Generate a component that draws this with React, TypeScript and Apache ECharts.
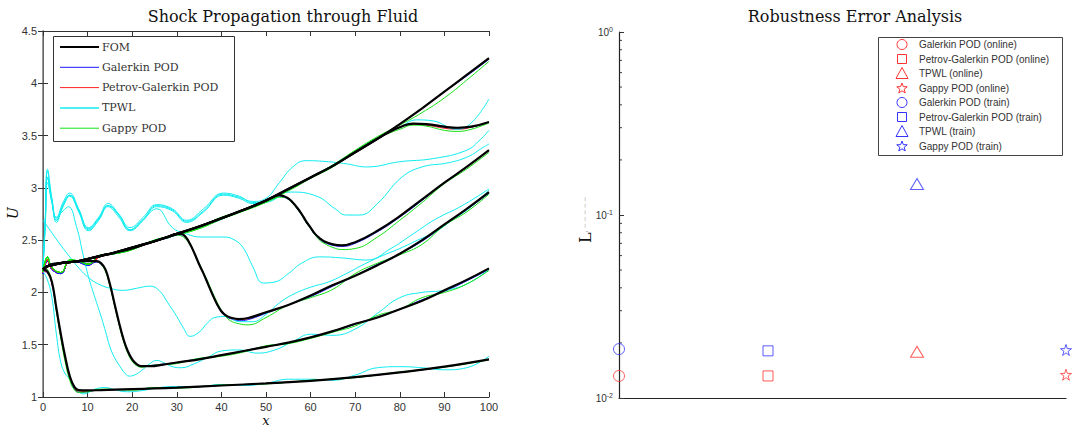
import React, { useEffect, useRef } from 'react';
import * as echarts from 'echarts';

// ---------- Left chart: FOM snapshots (x grids + U values) ----------
const X1 = [0,1,2,3,4,5,6,7,8,10,13,16,20,25,30,40,50,60,70,80,90,100];
const FOM1 = [2.22,2.2,2.1,1.85,1.6,1.38,1.2,1.1,1.065,1.063,1.066,1.07,1.075,1.082,1.09,1.11,1.13,1.155,1.19,1.235,1.29,1.36];
const GAL1 = [2.2,2.19,2.08,1.83,1.58,1.36,1.18,1.08,1.045,1.05,1.07,1.068,1.075,1.085,1.088,1.112,1.128,1.157,1.188,1.236,1.288,1.36];
const PG1 = [2.21,2.19,2.09,1.84,1.59,1.37,1.19,1.09,1.05,1.055,1.068,1.07,1.074,1.083,1.09,1.11,1.13,1.156,1.19,1.235,1.29,1.36];
const GAP1 = [2.24,2.22,2.1,1.82,1.56,1.33,1.16,1.07,1.045,1.05,1.075,1.072,1.065,1.09,1.085,1.115,1.125,1.16,1.185,1.24,1.285,1.355];

const X2 = [0,1,2,4,6,8,10,12,13,14,15,16,17,18,19,20,21,22,24,27,30,35,40,45,50,55,60,65,70,75,80,85,90,95,100];
const FOM2 = [2.22,2.25,2.27,2.28,2.29,2.3,2.3,2.3,2.28,2.22,2.08,1.9,1.72,1.56,1.44,1.36,1.315,1.295,1.295,1.31,1.33,1.36,1.4,1.44,1.48,1.52,1.57,1.63,1.7,1.76,1.84,1.92,2.02,2.12,2.23];
const GAL2 = [2.18,2.3,2.22,2.18,2.3,2.29,2.26,2.29,2.27,2.21,2.07,1.89,1.71,1.55,1.43,1.35,1.31,1.29,1.3,1.315,1.33,1.365,1.395,1.44,1.485,1.515,1.57,1.625,1.695,1.765,1.84,1.93,2.01,2.11,2.22];
const PG2 = [2.19,2.31,2.23,2.19,2.3,2.3,2.27,2.3,2.28,2.21,2.07,1.89,1.71,1.55,1.43,1.35,1.31,1.29,1.295,1.312,1.33,1.36,1.4,1.44,1.48,1.52,1.57,1.63,1.7,1.76,1.84,1.92,2.02,2.12,2.23];
const GAP2 = [2.2,2.33,2.24,2.19,2.31,2.3,2.27,2.3,2.27,2.2,2.06,1.88,1.7,1.54,1.42,1.34,1.3,1.285,1.3,1.31,1.32,1.37,1.39,1.43,1.49,1.51,1.56,1.62,1.68,1.78,1.84,1.95,2.0,2.08,2.21];

const X3 = [0,1,2,4,6,8,10,13,16,20,25,28,30,31,32,33,34,35,36,37,38,39,40,41,42,44,46,50,55,60,65,70,75,80,85,90,95,100];
const FOM3 = [2.22,2.25,2.26,2.28,2.29,2.3,2.32,2.35,2.38,2.42,2.49,2.53,2.56,2.56,2.53,2.46,2.37,2.27,2.18,2.08,1.98,1.89,1.82,1.78,1.76,1.745,1.755,1.81,1.88,1.97,2.07,2.16,2.26,2.37,2.5,2.65,2.8,2.96];
const GAL3 = [2.18,2.3,2.22,2.18,2.3,2.29,2.26,2.35,2.37,2.42,2.49,2.52,2.55,2.55,2.52,2.46,2.37,2.27,2.18,2.08,1.98,1.89,1.81,1.77,1.75,1.73,1.74,1.8,1.88,1.96,2.06,2.16,2.27,2.37,2.49,2.64,2.79,2.95];
const PG3 = [2.19,2.31,2.23,2.19,2.3,2.3,2.27,2.35,2.38,2.42,2.49,2.53,2.56,2.56,2.53,2.46,2.37,2.27,2.18,2.08,1.98,1.89,1.82,1.78,1.76,1.74,1.75,1.81,1.88,1.97,2.07,2.16,2.26,2.37,2.5,2.65,2.8,2.96];
const GAP3 = [2.2,2.34,2.24,2.19,2.31,2.3,2.27,2.36,2.37,2.41,2.5,2.52,2.55,2.54,2.51,2.45,2.37,2.28,2.19,2.1,2.0,1.91,1.83,1.77,1.73,1.7,1.69,1.76,1.88,1.95,2.03,2.18,2.28,2.36,2.46,2.64,2.77,2.94];

const X4 = [0,1,2,4,6,8,10,13,16,20,25,30,35,40,45,50,52,53,54,55,56,57,58,59,60,61,62,63,65,67,70,75,80,85,90,95,100];
const FOM4 = [2.22,2.25,2.26,2.28,2.29,2.3,2.32,2.35,2.38,2.43,2.49,2.56,2.63,2.71,2.79,2.88,2.92,2.93,2.92,2.9,2.86,2.81,2.75,2.68,2.62,2.56,2.52,2.49,2.46,2.45,2.48,2.59,2.73,2.89,3.05,3.2,3.36];
const GAL4 = [2.18,2.3,2.22,2.18,2.3,2.29,2.26,2.35,2.37,2.42,2.49,2.55,2.62,2.71,2.79,2.87,2.91,2.92,2.91,2.89,2.85,2.8,2.74,2.67,2.61,2.55,2.51,2.48,2.45,2.44,2.47,2.58,2.72,2.88,3.05,3.2,3.36];
const PG4 = [2.19,2.31,2.23,2.19,2.3,2.3,2.27,2.35,2.38,2.42,2.49,2.56,2.63,2.71,2.79,2.88,2.92,2.93,2.92,2.9,2.86,2.81,2.75,2.68,2.62,2.56,2.52,2.49,2.46,2.45,2.48,2.59,2.73,2.89,3.05,3.2,3.36];
const GAP4 = [2.2,2.34,2.24,2.19,2.31,2.3,2.27,2.36,2.37,2.41,2.5,2.55,2.62,2.72,2.78,2.86,2.9,2.91,2.91,2.89,2.85,2.8,2.74,2.67,2.61,2.55,2.5,2.47,2.43,2.41,2.42,2.53,2.69,2.86,3.04,3.18,3.34];

const X5 = [0,1,2,4,6,8,10,13,16,20,25,30,35,40,45,50,55,60,65,70,75,78,80,83,86,90,93,96,100];
const FOM5 = [2.22,2.25,2.26,2.28,2.29,2.3,2.32,2.35,2.38,2.43,2.49,2.56,2.63,2.71,2.79,2.88,2.99,3.1,3.21,3.34,3.47,3.54,3.58,3.615,3.61,3.585,3.575,3.585,3.63];
const GAL5 = [2.18,2.3,2.22,2.18,2.3,2.29,2.26,2.35,2.37,2.42,2.49,2.55,2.62,2.7,2.79,2.87,2.98,3.1,3.21,3.34,3.47,3.54,3.58,3.61,3.6,3.58,3.57,3.58,3.63];
const PG5 = [2.19,2.31,2.23,2.19,2.3,2.3,2.27,2.35,2.38,2.42,2.49,2.56,2.63,2.71,2.79,2.88,2.99,3.1,3.21,3.34,3.47,3.54,3.58,3.61,3.6,3.57,3.56,3.58,3.63];
const GAP5 = [2.2,2.34,2.24,2.19,2.31,2.3,2.27,2.36,2.37,2.41,2.5,2.55,2.61,2.7,2.78,2.87,2.97,3.09,3.2,3.35,3.48,3.53,3.56,3.6,3.59,3.55,3.54,3.56,3.62];

const X6 = [0,1,2,4,6,8,10,13,16,20,25,30,35,40,45,50,55,60,65,70,75,80,85,90,95,100];
const FOM6 = [2.22,2.25,2.26,2.28,2.29,2.3,2.32,2.35,2.38,2.43,2.49,2.56,2.63,2.71,2.79,2.88,2.99,3.1,3.21,3.34,3.47,3.61,3.76,3.92,4.08,4.24];
const GAL6 = [2.18,2.3,2.22,2.18,2.3,2.29,2.26,2.35,2.37,2.42,2.49,2.55,2.62,2.7,2.79,2.87,2.98,3.1,3.21,3.34,3.47,3.61,3.76,3.92,4.07,4.23];
const PG6 = [2.19,2.31,2.23,2.19,2.3,2.3,2.27,2.35,2.38,2.42,2.49,2.56,2.63,2.71,2.79,2.88,2.99,3.1,3.21,3.34,3.47,3.61,3.76,3.92,4.08,4.24];
const GAP6 = [2.2,2.34,2.24,2.19,2.31,2.3,2.27,2.36,2.37,2.41,2.5,2.55,2.61,2.7,2.78,2.87,2.98,3.1,3.22,3.36,3.49,3.6,3.72,3.86,4.03,4.21];

// ---------- TPWL curves (own x grids) ----------
const TX1 = [0,1,2,3,4,5,6,7,8,9,10,12,14,16,19,22,26,30,35,40,45,50,55,60,65,70,75,80,85,90,95,100];
const TP1 = [2.2,2.12,1.95,1.6,1.33,1.22,1.17,1.1,1.05,1.03,1.04,1.08,1.09,1.07,1.05,1.06,1.09,1.1,1.1,1.12,1.11,1.13,1.17,1.17,1.16,1.21,1.28,1.29,1.28,1.26,1.28,1.39];
const TX2 = [0,0.5,1,2,3,4.5,5.7,7.5,9,10.2,11.5,12.8,14,15,16,17.3,18.3,19.3,20.5,22,24,25.5,27,29,31,34,37,40,44,48,52,56,60,65,70,75,80,85,90,95,100];
const TP2 = [2.25,2.66,3.1,2.86,2.72,2.78,2.82,2.63,2.36,2.15,1.97,1.8,1.63,1.48,1.38,1.29,1.23,1.2,1.21,1.25,1.32,1.35,1.33,1.29,1.28,1.32,1.38,1.44,1.45,1.42,1.45,1.53,1.6,1.59,1.65,1.8,1.95,2.0,2.02,2.08,2.22];
const TX3 = [0,2,4,6,8.3,10,12,15,18,21,24,26,28,30,31.5,33,35,36.7,38.5,41,44,47,50,53,56,60,64,68,72,76,80,84,88,92,96,100];
const TP3 = [2.69,2.57,2.45,2.34,2.22,2.15,2.09,2.04,2.02,2.04,2.06,2.02,1.9,1.77,1.66,1.58,1.62,1.7,1.76,1.77,1.72,1.72,1.79,1.9,1.98,2.05,2.1,2.18,2.27,2.35,2.42,2.5,2.58,2.7,2.82,2.98];
const TX4 = [0,0.5,1,2,3,4.5,6,8,10.2,12.5,14.6,17,19.5,22.5,25.5,29,32.2,35.2,38,40.4,43,45,47,49.4,52,55,58,62,67,72.6,78,83,88,94,100];
const TP4 = [2.24,2.68,3.16,2.88,2.69,2.84,2.93,2.79,2.61,2.71,2.83,2.74,2.6,2.7,2.8,2.62,2.56,2.53,2.53,2.53,2.5,2.42,2.25,2.09,2.1,2.18,2.28,2.34,2.33,2.31,2.42,2.56,2.7,2.83,2.99];
const TX5 = [0,0.5,1,2,3,4.5,6,8,10.2,12.5,14.6,17,19.5,22.5,25.5,29,32.2,36,40.4,44,47,50,55.4,61.4,65.5,68,71,75,80.4,85,90.9,95.4,98.4,100];
const TP5 = [2.25,2.7,3.18,2.9,2.71,2.86,2.95,2.8,2.62,2.72,2.85,2.75,2.62,2.72,2.84,2.8,2.69,2.8,2.95,2.92,2.86,2.87,2.96,2.92,2.8,2.74,2.74,2.85,3.1,3.2,3.24,3.3,3.38,3.42];
const TX6 = [0,0.5,1,2,3,4.5,6,8,10.2,12.5,14.6,17,19.5,22.5,25.5,29,32.2,36,40.4,44,47,50,53,56,59,64,68,72.6,80,87.5,95,98,100];
const TP6 = [2.23,2.66,3.1,2.88,2.69,2.83,2.93,2.78,2.6,2.7,2.83,2.74,2.6,2.7,2.83,2.79,2.68,2.78,2.94,2.91,2.87,2.9,3.05,3.2,3.26,3.25,3.23,3.2,3.25,3.28,3.36,3.46,3.55];
const TX7 = [0,0.5,1,2,3,4.5,6,8,10.2,12.5,14.6,17,19.5,22.5,25.5,29,32.2,36,40.4,44,47,50,55,60,65,70,75,80,83.8,87.5,92.7,96,100];
const TP7 = [2.24,2.62,3.05,2.86,2.67,2.82,2.92,2.77,2.59,2.69,2.82,2.72,2.59,2.69,2.82,2.78,2.67,2.77,2.93,2.9,2.85,2.86,2.98,3.1,3.22,3.35,3.48,3.58,3.65,3.64,3.56,3.62,3.85];

const X_TICKS_LEFT = [0, 10, 20, 30, 40, 50, 60, 70, 80, 90, 100];
const Y_TICKS_LEFT = [1, 1.5, 2, 2.5, 3, 3.5, 4, 4.5];

// ---------- Right chart ----------
const METHODS = ['Galerkin POD', 'Petrov-Galerkin POD', 'TPWL', 'Gappy POD'];
const METHOD_POS = [1, 2, 3, 4];
const ONLINE_ERR = [0.0132, 0.0132, 0.0179, 0.0134];
const TRAIN_ERR = [0.0185, 0.0181, 0.1476, 0.0183];

const C_FOM = '#000000';
const C_GAL = '#1a1aff';
const C_PG = '#ff2020';
const C_TPWL = '#10ecf0';
const C_GAP = '#14e014';
const C_ON = '#ff3333';
const C_TR = '#3333ff';

const STAR = 'path://M0,-1L0.2245,-0.309L0.9511,-0.309L0.3633,0.118L0.5878,0.809L0,0.382L-0.5878,0.809L-0.3633,0.118L-0.9511,-0.309L-0.2245,-0.309Z';
const SYMBOLS = ['circle', 'rect', 'triangle', STAR];
const SYM_SIZE: any[] = [11, 10, [13, 11], 11];

const pairs = (xs: number[], ys: number[]) => xs.map((x, i) => [x, ys[i]]);

function line(xs: number[], ys: number[], color: string, width: number, z: number) {
  return {
    type: 'line', xAxisIndex: 0, yAxisIndex: 0, data: pairs(xs, ys),
    showSymbol: false, symbol: 'none', smooth: 0.45,
    lineStyle: { color, width }, silent: true, z,
  };
}

function starPoints(cx: number, cy: number, R: number) {
  const pts: number[][] = [];
  for (let i = 0; i < 10; i++) {
    const r = i % 2 === 0 ? R : R * 0.42;
    const a = -Math.PI / 2 + (i * Math.PI) / 5;
    pts.push([cx + r * Math.cos(a), cy + r * Math.sin(a)]);
  }
  return pts;
}

function buildOption(extra: any[]) {
  const fx = [X1, X2, X3, X4, X5, X6];
  const fom = [FOM1, FOM2, FOM3, FOM4, FOM5, FOM6];
  const gal = [GAL1, GAL2, GAL3, GAL4, GAL5, GAL6];
  const pg = [PG1, PG2, PG3, PG4, PG5, PG6];
  const gap = [GAP1, GAP2, GAP3, GAP4, GAP5, GAP6];
  const tx = [TX1, TX2, TX3, TX4, TX5, TX6, TX7];
  const tp = [TP1, TP2, TP3, TP4, TP5, TP6, TP7];

  const series: any[] = [];
  fx.forEach((xs, i) => series.push(line(xs, gal[i], C_GAL, 1, 2)));
  fx.forEach((xs, i) => series.push(line(xs, pg[i], C_PG, 1, 3)));
  tx.forEach((xs, i) => series.push(line(xs, tp[i], C_TPWL, 1, 4)));
  fx.forEach((xs, i) => series.push(line(xs, gap[i], C_GAP, 1, 5)));
  fx.forEach((xs, i) => series.push(line(xs, fom[i], C_FOM, 2.2, 6)));

  METHODS.forEach((m, i) => {
    series.push({
      type: 'scatter', name: m + ' (online)', xAxisIndex: 2, yAxisIndex: 2,
      data: [[METHOD_POS[i], ONLINE_ERR[i]]], symbol: SYMBOLS[i], symbolSize: SYM_SIZE[i],
      itemStyle: { color: 'rgba(0,0,0,0)', borderColor: C_ON, borderWidth: 1 }, silent: true,
    });
    series.push({
      type: 'scatter', name: m + ' (train)', xAxisIndex: 2, yAxisIndex: 2,
      data: [[METHOD_POS[i], TRAIN_ERR[i]]], symbol: SYMBOLS[i], symbolSize: SYM_SIZE[i],
      itemStyle: { color: 'rgba(0,0,0,0)', borderColor: C_TR, borderWidth: 1 }, silent: true,
    });
  });

  const axisCol = '#333';
  const labelStyle = { color: '#333', fontSize: 11, fontFamily: 'Liberation Sans, Arial, sans-serif' };

  // left legend
  const legL: any[] = [
    { type: 'rect', shape: { x: 53.5, y: 36.5, width: 181, height: 105 }, style: { fill: '#fff', stroke: '#333', lineWidth: 1 }, z: 100 },
  ];
  const legItems = [
    ['FOM', C_FOM, 2.2], ['Galerkin POD', C_GAL, 1], ['Petrov-Galerkin POD', C_PG, 1], ['TPWL', C_TPWL, 1.5], ['Gappy POD', C_GAP, 1],
  ];
  legItems.forEach((it: any, i) => {
    const y = 47 + i * 20.3;
    legL.push({ type: 'line', shape: { x1: 60, y1: y, x2: 99, y2: y }, style: { stroke: it[1], lineWidth: it[2] }, z: 101 });
    legL.push({ type: 'text', x: 102, y, style: { text: it[0], fill: '#333', font: '11px "DejaVu Serif", serif', verticalAlign: 'middle' }, z: 101 });
  });

  // right legend
  const legR: any[] = [
    { type: 'rect', shape: { x: 878.5, y: 37.5, width: 184, height: 118 }, style: { fill: '#fff', stroke: '#444', lineWidth: 1 }, z: 100 },
  ];
  const rows: [string, string, number][] = [];
  METHODS.forEach((m, i) => rows.push([m + ' (online)', C_ON, i]));
  METHODS.forEach((m, i) => rows.push([m + ' (train)', C_TR, i]));
  rows.forEach((r, k) => {
    const y = 44.5 + k * 14.5;
    const cx = 902;
    const st = { fill: 'none', stroke: r[1], lineWidth: 1 };
    if (r[2] === 0) legR.push({ type: 'circle', shape: { cx, cy: y, r: 5 }, style: st, z: 101 });
    else if (r[2] === 1) legR.push({ type: 'rect', shape: { x: cx - 4.5, y: y - 4.5, width: 9, height: 9 }, style: st, z: 101 });
    else if (r[2] === 2) legR.push({ type: 'polygon', shape: { points: [[cx, y - 6], [cx + 6, y + 5], [cx - 6, y + 5]] }, style: st, z: 101 });
    else legR.push({ type: 'polygon', shape: { points: starPoints(cx, y + 0.5, 5.5) }, style: st, z: 101 });
    legR.push({ type: 'text', x: 919, y, style: { text: r[0], fill: '#333', font: '10px "Liberation Sans", Arial, sans-serif', verticalAlign: 'middle' }, z: 101 });
  });

  const graphic: any[] = [
    { type: 'text', x: 283, y: 16, style: { text: 'Shock Propagation through Fluid', fill: '#111', font: '16px "DejaVu Serif", serif', align: 'center', verticalAlign: 'middle' } },
    { type: 'text', x: 855, y: 16, style: { text: 'Robustness Error Analysis', fill: '#111', font: '16px "DejaVu Serif", serif', align: 'center', verticalAlign: 'middle' } },
    { type: 'text', x: 13, y: 213, rotation: Math.PI / 2, style: { text: 'U', fill: '#111', font: 'italic 14px "DejaVu Serif", serif', align: 'center', verticalAlign: 'middle' } },
    { type: 'text', x: 266, y: 420, style: { text: 'x', fill: '#111', font: 'italic 13px "DejaVu Serif", serif', align: 'center', verticalAlign: 'middle' } },
    { type: 'text', x: 585, y: 243, rotation: Math.PI / 2, style: { text: '{a|L}{b|, ‒ ‒ ‒ ‒ ‒}', rich: { a: { fill: '#111', font: '16px "DejaVu Serif", serif' }, b: { fill: '#999', font: '7px "DejaVu Sans", sans-serif' } }, align: 'left', verticalAlign: 'middle' } },
    ...legL, ...legR, ...extra,
  ];

  return {
    animation: false,
    backgroundColor: '#fff',
    grid: [
      { left: 43, top: 31, width: 446, height: 366 },
      { left: 619, top: 32, width: 447, height: 366 },
    ],
    xAxis: [
      { gridIndex: 0, type: 'value', min: 0, max: 100, interval: 10, position: 'bottom',
        axisLine: { lineStyle: { color: axisCol } }, axisTick: { inside: true, length: 5, lineStyle: { color: axisCol } },
        axisLabel: { ...labelStyle, margin: 4, formatter: (v: number) => (X_TICKS_LEFT.includes(v) ? String(v) : '') }, splitLine: { show: false } },
      { gridIndex: 0, type: 'value', min: 0, max: 100, interval: 10, position: 'top',
        axisLine: { lineStyle: { color: axisCol } }, axisTick: { inside: true, length: 5, lineStyle: { color: axisCol } },
        axisLabel: { show: false }, splitLine: { show: false } },
      { gridIndex: 1, type: 'value', min: 1, max: 4, position: 'bottom',
        axisLine: { lineStyle: { color: '#222', width: 1.2 } }, axisTick: { show: false }, axisLabel: { show: false }, splitLine: { show: false } },
    ],
    yAxis: [
      { gridIndex: 0, type: 'value', min: 1, max: 4.5, interval: 0.5, position: 'left',
        axisLine: { show: true, lineStyle: { color: axisCol } }, axisTick: { show: true, inside: true, length: 5, lineStyle: { color: axisCol } },
        axisLabel: { ...labelStyle, margin: 6, formatter: (v: number) => (Y_TICKS_LEFT.includes(v) ? String(v) : '') }, splitLine: { show: false } },
      { gridIndex: 0, type: 'value', min: 1, max: 4.5, interval: 0.5, position: 'right',
        axisLine: { show: true, lineStyle: { color: '#777', width: 1.5 } }, axisTick: { show: true, inside: true, length: 5, lineStyle: { color: axisCol } },
        axisLabel: { show: false }, splitLine: { show: false } },
      { gridIndex: 1, type: 'log', logBase: 10, min: 0.01, max: 1, position: 'left',
        axisLine: { show: true, lineStyle: { color: '#222', width: 1.2 } },
        axisTick: { show: true, inside: true, length: 5, lineStyle: { color: '#333' } },
        axisLabel: {
          margin: 6, color: '#333',
          formatter: (v: number) => '10{s|' + Math.round(Math.log10(v)) + '}',
          rich: { s: { fontSize: 7, verticalAlign: 'top', lineHeight: 12, color: '#333' } },
          fontSize: 10, lineHeight: 12, fontFamily: 'Liberation Sans, Arial, sans-serif',
        },
        splitLine: { show: false } },
    ],
    series,
    graphic,
  };
}

export default function App() {
  const ref = useRef<HTMLDivElement>(null);
  useEffect(() => {
    const chart = echarts.init(ref.current!, undefined, { renderer: 'svg' });
    chart.setOption(buildOption([]));
    const ticks: any[] = [];
    [0.01, 0.1].forEach((dec) => {
      for (let k = 2; k <= 9; k++) {
        const p = chart.convertToPixel({ gridIndex: 1 } as any, [1, dec * k]) as number[];
        if (p) ticks.push({ type: 'line', shape: { x1: p[0], y1: p[1], x2: p[0] + 3, y2: p[1] }, style: { stroke: '#444', lineWidth: 1 } });
      }
    });
    chart.setOption(buildOption(ticks), true);
    return () => chart.dispose();
  }, []);
  return <div ref={ref} style={{ position: 'fixed', left: 0, top: 0, width: 1076, height: 426, background: '#fff' }} />;
}
